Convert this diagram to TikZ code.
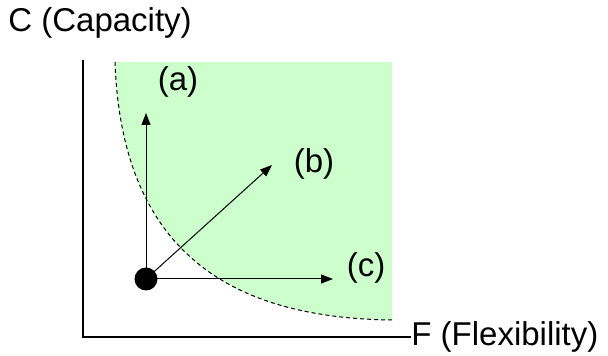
\documentclass[tikz,border=0pt]{standalone}
\usepackage{fontspec}
\setmainfont{Liberation Sans}
\usetikzlibrary{arrows.meta,positioning}
\definecolor{regiongreen}{RGB}{204,255,204}

\begin{document}
\begin{tikzpicture}[
  x=0.5pt, y=-0.5pt,
  lbl/.style={font=\fontsize{16.5}{20}\selectfont, inner sep=0pt},
  axis/.style={line width=1pt},
  arr/.style={-{Triangle[length=6pt,width=4.5pt]}, line width=0.5pt},
  bound/.style={dash pattern=on 2pt off 1.5pt, line width=0.5pt},
  pt/.style={circle, fill=black, inner sep=0pt, minimum size=11.5pt}
]
\useasboundingbox (0,0) rectangle (608,356);
% region beyond the boundary
\fill[regiongreen] (115,62) .. controls (122,260) and (240,318) .. (392,320) -- (392,62) -- cycle;
\draw[bound] (115,62) .. controls (122,260) and (240,318) .. (392,320);

\node[lbl, anchor=west] (cap) at (8,23) {C (Capacity)};
\node[lbl, anchor=west] (flex) at (411,337) {F (Flexibility)};
\coordinate (ytop) at (83,60);
\draw[axis] (ytop) |- (flex.west);

\node[pt] (start) at (146,279) {};
\coordinate (atip) at (146,113);
\coordinate (btip) at (272,165);
\coordinate (ctip) at (333,279);
\node[lbl] (a) at (178,82) {(a)};
\node[lbl] (b) at (314,164) {(b)};
\node[lbl] (c) at (366,268) {(c)};

\draw[arr] (start.center) -- (atip);
\draw[arr] (start.center) -- (btip);
\draw[arr] (start.center) -- (ctip);
\end{tikzpicture}
\end{document}
